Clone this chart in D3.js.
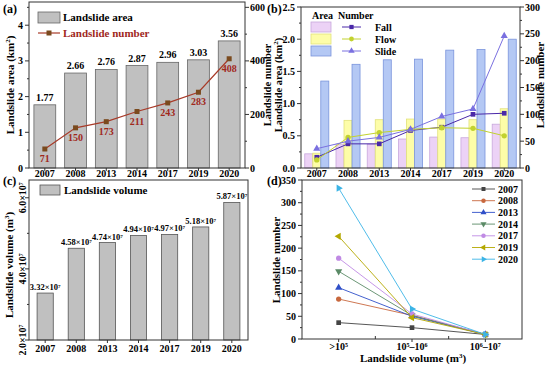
<!DOCTYPE html>
<html>
<head>
<meta charset="utf-8">
<script src="https://cdn.jsdelivr.net/npm/d3@7"></script>
<style>
  body { margin: 0; background: #fff; }
  svg text { font-family: "Liberation Serif", "DejaVu Serif", serif; font-weight: bold; }
</style>
</head>
<body>
<div id="chart"></div>
<script>
// ---- data ----
var years = ["2007", "2008", "2013", "2014", "2017", "2019", "2020"];
var totalArea = [1.77, 2.66, 2.76, 2.87, 2.96, 3.03, 3.56];
var totalNumber = [71, 150, 173, 211, 243, 283, 408];

var fallArea = [0.22, 0.37, 0.37, 0.45, 0.48, 0.47, 0.68];
var flowArea = [0.23, 0.74, 0.75, 0.76, 0.76, 0.75, 0.92];
var slideArea = [1.35, 1.61, 1.68, 1.69, 1.83, 1.84, 2.00];
var fallNumber = [20, 45, 45, 70, 76, 100, 102];
var flowNumber = [15, 57, 66, 72, 75, 74, 60];
var slideNumber = [36, 50, 57, 72, 96, 110, 246];

var volume = [3.32e7, 4.58e7, 4.74e7, 4.94e7, 4.97e7, 5.18e7, 5.87e7];
var volumeLabel = ["3.32", "4.58", "4.74", "4.94", "4.97", "5.18", "5.87"];

var volumeClasses = [">10^5", "10^5-10^6", "10^6-10^7"];
var numByClass = {
  "2007": [36, 25, 10],
  "2008": [88, 52, 10],
  "2013": [113, 50, 10],
  "2014": [149, 52, 10],
  "2017": [178, 55, 10],
  "2019": [226, 47, 10],
  "2020": [332, 66, 10]
};

var svg = d3.select("#chart").append("svg")
  .attr("width", 550)
  .attr("height", 365);

// frame + ticks helper (Origin-ish boxes)
function frame(box) {
  svg.append("rect")
    .attr("x", box.l).attr("y", box.t)
    .attr("width", box.r - box.l).attr("height", box.b - box.t)
    .attr("fill", "none").attr("stroke", "#333").attr("stroke-width", 1);
}

function leftTicks(scale, vals, minor, x, fmt, size) {
  var g = svg.append("g");
  vals.forEach(function(v) {
    g.append("line").attr("x1", x - 4).attr("x2", x).attr("y1", scale(v)).attr("y2", scale(v)).attr("stroke", "#333");
    if (fmt) g.append("text").attr("x", x - 6).attr("y", scale(v) + 3.5)
      .attr("text-anchor", "end").attr("font-size", size || 10).text(fmt(v));
  });
  minor.forEach(function(v) {
    g.append("line").attr("x1", x - 2).attr("x2", x).attr("y1", scale(v)).attr("y2", scale(v)).attr("stroke", "#333");
  });
}

function rightTicks(scale, vals, minor, x, fmt) {
  var g = svg.append("g");
  vals.forEach(function(v) {
    g.append("line").attr("x1", x).attr("x2", x + 4).attr("y1", scale(v)).attr("y2", scale(v)).attr("stroke", "#333");
    g.append("text").attr("x", x + 5).attr("y", scale(v) + 3.5)
      .attr("font-size", 10).text(fmt(v));
  });
  minor.forEach(function(v) {
    g.append("line").attr("x1", x).attr("x2", x + 2).attr("y1", scale(v)).attr("y2", scale(v)).attr("stroke", "#333");
  });
}

function bottomLabels(xs, y, ty) {
  years.forEach(function(yr) {
    var cx = xs(yr) + xs.bandwidth() / 2;
    svg.append("line").attr("x1", cx).attr("x2", cx).attr("y1", y).attr("y2", y + 3).attr("stroke", "#333");
    svg.append("text").attr("x", cx).attr("y", ty).attr("text-anchor", "middle")
      .attr("font-size", 10).text(yr);
  });
}

function vTitle(x, y, parts, size) {
  var t = svg.append("text").attr("transform", "translate(" + x + "," + y + ") rotate(-90)")
    .attr("text-anchor", "middle").attr("font-size", size || 11);
  parts.forEach(function(p) {
    var s = t.append("tspan").text(p[0]);
    if (p[1]) s.attr("baseline-shift", "super").attr("font-size", 7);
  });
}

function panelTag(x, y, s) {
  svg.append("text").attr("x", x).attr("y", y).attr("font-size", 12).text(s);
}

// ================= (a) =================
var A = {l: 29, r: 245, t: 2, b: 168};
var xa = d3.scaleBand().domain(years).range([A.l, A.r]).paddingInner(0.29).paddingOuter(0.16);
var yaL = d3.scaleLinear().domain([0, 4.65]).range([A.b, A.t]);
var yaR = d3.scaleLinear().domain([0, 620]).range([A.b, A.t]);

svg.append("g").selectAll("rect").data(totalArea).enter().append("rect")
  .attr("x", (d, i) => xa(years[i]))
  .attr("y", d => yaL(d))
  .attr("width", xa.bandwidth())
  .attr("height", d => yaL(0) - yaL(d))
  .attr("fill", "#c0c0c0").attr("stroke", "#666").attr("stroke-width", 0.8);

svg.append("g").selectAll("text").data(totalArea).enter().append("text")
  .attr("x", (d, i) => xa(years[i]) + xa.bandwidth() / 2)
  .attr("y", d => yaL(d) - 4)
  .attr("text-anchor", "middle").attr("font-size", 10)
  .text(d => d.toFixed(2));

var lineA = d3.line()
  .x((d, i) => xa(years[i]) + xa.bandwidth() / 2)
  .y(d => yaR(d));
svg.append("path").datum(totalNumber).attr("d", lineA)
  .attr("fill", "none").attr("stroke", "#a83a28").attr("stroke-width", 1.2);
svg.append("g").selectAll("rect").data(totalNumber).enter().append("rect")
  .attr("x", (d, i) => xa(years[i]) + xa.bandwidth() / 2 - 2.5)
  .attr("y", d => yaR(d) - 2.5)
  .attr("width", 5).attr("height", 5)
  .attr("fill", "#7a4a1e");
svg.append("g").selectAll("text").data(totalNumber).enter().append("text")
  .attr("x", (d, i) => xa(years[i]) + xa.bandwidth() / 2)
  .attr("y", d => yaR(d) + 13)
  .attr("text-anchor", "middle").attr("font-size", 10).attr("fill", "#a0281c")
  .text(d => d);

frame(A);
leftTicks(yaL, [0, 1, 2, 3, 4], [0.5, 1.5, 2.5, 3.5, 4.5], A.l, d => d);
rightTicks(yaR, [0, 200, 400, 600], [100, 300, 500], A.r, d => d);
bottomLabels(xa, A.b, 177);
vTitle(14, 85, [["Landslide area (km"], ["2", true], [")"]]);
vTitle(271, 85, [["Landslide number"]], 10.5);

// legend (a)
svg.append("rect").attr("x", 38).attr("y", 12).attr("width", 22).attr("height", 11)
  .attr("fill", "#c0c0c0").attr("stroke", "#666").attr("stroke-width", 0.8);
svg.append("text").attr("x", 63).attr("y", 21).attr("font-size", 11).text("Landslide area");
svg.append("line").attr("x1", 38).attr("x2", 60).attr("y1", 33).attr("y2", 33)
  .attr("stroke", "#a83a28").attr("stroke-width", 1.2);
svg.append("rect").attr("x", 46.5).attr("y", 30.5).attr("width", 5).attr("height", 5).attr("fill", "#7a4a1e");
svg.append("text").attr("x", 63).attr("y", 37).attr("font-size", 11).attr("fill", "#a0281c").text("Landslide number");
panelTag(3, 13, "(a)");

// ================= (b) =================
var B = {l: 301, r: 520, t: 7, b: 168};
var xb = d3.scaleBand().domain(years).range([B.l, B.r]).paddingInner(0.23).paddingOuter(0.12);
var types = ["Fall", "Flow", "Slide"];
var xsub = d3.scaleBand().domain(types).range([0, xb.bandwidth()]);
var ybL = d3.scaleLinear().domain([0, 2.5]).range([B.b, B.t]);
var ybR = d3.scaleLinear().domain([0, 300]).range([B.b, B.t]);

var areaSets = [fallArea, flowArea, slideArea];
var numSets = [fallNumber, flowNumber, slideNumber];
var barFill = ["#ecd2f6", "#fdfda8", "#b4c8f4"];
var barStroke = ["#c8a8dc", "#e2e27a", "#7a94dc"];
var lineCol = ["#4a28a8", "#c2d22e", "#7a70e0"];

types.forEach(function(t, k) {
  svg.append("g").selectAll("rect").data(areaSets[k]).enter().append("rect")
    .attr("x", (d, i) => xb(years[i]) + xsub(t))
    .attr("y", d => ybL(d))
    .attr("width", xsub.bandwidth())
    .attr("height", d => ybL(0) - ybL(d))
    .attr("fill", barFill[k]).attr("stroke", barStroke[k]).attr("stroke-width", 0.8);
});

var lineB = d3.line()
  .x((d, i) => xb(years[i]) + xb.bandwidth() / 2)
  .y(d => ybR(d));
var symB = [d3.symbolSquare, d3.symbolCircle, d3.symbolTriangle];
types.forEach(function(t, k) {
  svg.append("path").datum(numSets[k]).attr("d", lineB)
    .attr("fill", "none").attr("stroke", lineCol[k]).attr("stroke-width", 1);
  svg.append("g").selectAll("path").data(numSets[k]).enter().append("path")
    .attr("d", d3.symbol().type(symB[k]).size(22))
    .attr("transform", (d, i) => "translate(" + (xb(years[i]) + xb.bandwidth() / 2) + "," + ybR(d) + ")")
    .attr("fill", lineCol[k]);
});

frame(B);
leftTicks(ybL, [0, 0.5, 1, 1.5, 2, 2.5], [0.25, 0.75, 1.25, 1.75, 2.25], B.l, d => d.toFixed(1));
rightTicks(ybR, [0, 50, 100, 150, 200, 250, 300], [25, 75, 125, 175, 225, 275], B.r, d => d);
bottomLabels(xb, B.b, 177);
vTitle(282, 85, [["Landslide area (km"], ["2", true], [")"]], 10.5);
vTitle(544, 85, [["Landslide number"]]);

// legend (b)
svg.append("text").attr("x", 312).attr("y", 19).attr("font-size", 10).text("Area");
svg.append("text").attr("x", 338).attr("y", 19).attr("font-size", 10).text("Number");
types.forEach(function(t, k) {
  var cy = 27 + k * 12;
  svg.append("rect").attr("x", 311).attr("y", cy - 5).attr("width", 20).attr("height", 10)
    .attr("fill", barFill[k]).attr("stroke", barStroke[k]).attr("stroke-width", 0.8);
  svg.append("line").attr("x1", 342).attr("x2", 361).attr("y1", cy).attr("y2", cy)
    .attr("stroke", lineCol[k]).attr("stroke-width", 1);
  svg.append("path").attr("d", d3.symbol().type(symB[k]).size(18))
    .attr("transform", "translate(351.5," + cy + ")").attr("fill", lineCol[k]);
  svg.append("text").attr("x", 375).attr("y", cy + 3.5).attr("font-size", 10).text(t);
});
panelTag(267, 13, "(b)");

// ================= (c) =================
var C = {l: 29, r: 248, t: 180, b: 340};
var xc = d3.scaleBand().domain(years).range([C.l, C.r]).paddingInner(0.48).paddingOuter(0.26);
var yc = d3.scaleLinear().domain([2e7, 6.5e7]).range([C.b, C.t]);

svg.append("g").selectAll("rect").data(volume).enter().append("rect")
  .attr("x", (d, i) => xc(years[i]))
  .attr("y", d => yc(d))
  .attr("width", xc.bandwidth())
  .attr("height", d => yc(2e7) - yc(d))
  .attr("fill", "#c0c0c0").attr("stroke", "#555").attr("stroke-width", 0.8);

svg.append("g").selectAll("text").data(volume).enter().append("text")
  .attr("x", (d, i) => xc(years[i]) + xc.bandwidth() / 2)
  .attr("y", d => yc(d) - 3)
  .attr("text-anchor", "middle").attr("font-size", 8.5)
  .each(function(d, i) {
    var t = d3.select(this);
    t.append("tspan").text(volumeLabel[i] + "×10");
    t.append("tspan").attr("baseline-shift", "super").attr("font-size", 5).text("7");
  });

frame(C);
leftTicks(yc, [2e7, 4e7, 6e7], [3e7, 5e7], C.l, null);
[2e7, 4e7, 6e7].forEach(function(v) {
  var t = svg.append("text")
    .attr("transform", "translate(" + (C.l - 3) + "," + yc(v) + ") rotate(-90)")
    .attr("text-anchor", "middle").attr("font-size", 10);
  t.append("tspan").text((v / 1e7).toFixed(1) + "×10");
  t.append("tspan").attr("baseline-shift", "super").attr("font-size", 6).text("7");
});
bottomLabels(xc, C.b, 352);
vTitle(13, 265, [["Landslide volume (m"], ["3", true], [")"]]);

svg.append("rect").attr("x", 40).attr("y", 185).attr("width", 20).attr("height", 10)
  .attr("fill", "#c0c0c0").attr("stroke", "#555").attr("stroke-width", 0.8);
svg.append("text").attr("x", 64).attr("y", 194).attr("font-size", 11).text("Landslide volume");
panelTag(3, 185, "(c)");

// ================= (d) =================
var D = {l: 302, r: 522, t: 180, b: 339};
var xd = d3.scalePoint().domain(volumeClasses).range([D.l, D.r]).padding(0.5);
var yd = d3.scaleLinear().domain([0, 350]).range([D.b, D.t]);
var dCol = {
  "2007": "#444444", "2008": "#c8683e", "2013": "#2f4fc8", "2014": "#5a8a66",
  "2017": "#c08ae4", "2019": "#b4a800", "2020": "#3cb4e6"
};
var dSym = {
  "2007": d3.symbolSquare, "2008": d3.symbolCircle, "2013": d3.symbolTriangle,
  "2014": "down", "2017": d3.symbolCircle, "2019": "left", "2020": "right"
};

function marker(g, yr, x, y, sz) {
  var s = dSym[yr];
  var rot = 0;
  if (s === "down") { s = d3.symbolTriangle; rot = 180; }
  if (s === "left") { s = d3.symbolTriangle; rot = -90; }
  if (s === "right") { s = d3.symbolTriangle; rot = 90; }
  g.append("path").attr("d", d3.symbol().type(s).size(sz))
    .attr("transform", "translate(" + x + "," + y + ") rotate(" + rot + ")")
    .attr("fill", dCol[yr]);
}

var lineD = d3.line()
  .x((d, i) => xd(volumeClasses[i]))
  .y(d => yd(d));
years.forEach(function(yr) {
  var g = svg.append("g");
  g.append("path").datum(numByClass[yr]).attr("d", lineD)
    .attr("fill", "none").attr("stroke", dCol[yr]).attr("stroke-width", 0.9);
  numByClass[yr].forEach(function(v, i) {
    marker(g, yr, xd(volumeClasses[i]), yd(v), 22);
  });
});

frame(D);
leftTicks(yd, d3.range(0, 351, 50), d3.range(25, 350, 50), D.l, d => d);
// x ticks: major at categories, minor between
volumeClasses.forEach(function(c) {
  svg.append("line").attr("x1", xd(c)).attr("x2", xd(c)).attr("y1", D.b).attr("y2", D.b + 3).attr("stroke", "#333");
});
[(xd(volumeClasses[0]) + xd(volumeClasses[1])) / 2, (xd(volumeClasses[1]) + xd(volumeClasses[2])) / 2].forEach(function(x) {
  svg.append("line").attr("x1", x).attr("x2", x).attr("y1", D.b).attr("y2", D.b - 3).attr("stroke", "#333");
});
var xlabD = [
  [[">10"], ["5", true]],
  [["10"], ["5", true], ["–10"], ["6", true]],
  [["10"], ["6", true], ["–10"], ["7", true]]
];
volumeClasses.forEach(function(c, i) {
  var t = svg.append("text").attr("x", xd(c)).attr("y", 350)
    .attr("text-anchor", "middle").attr("font-size", 10);
  xlabD[i].forEach(function(p) {
    var s = t.append("tspan").text(p[0]);
    if (p[1]) s.attr("baseline-shift", "super").attr("font-size", 6);
  });
});
var xt = svg.append("text").attr("x", 413).attr("y", 362).attr("text-anchor", "middle").attr("font-size", 11);
xt.append("tspan").text("Landslide volume (m");
xt.append("tspan").attr("baseline-shift", "super").attr("font-size", 7).text("3");
xt.append("tspan").text(")");
vTitle(280, 260, [["Landslide number"]]);

// legend (d)
years.forEach(function(yr, i) {
  var cy = 189 + i * 11.7;
  var g = svg.append("g");
  g.append("line").attr("x1", 472).attr("x2", 495).attr("y1", cy).attr("y2", cy)
    .attr("stroke", dCol[yr]).attr("stroke-width", 0.9);
  marker(g, yr, 483.5, cy, 16);
  g.append("text").attr("x", 498).attr("y", cy + 3.5).attr("font-size", 10).text(yr);
});
panelTag(267, 185, "(d)");
</script>
</body>
</html>
